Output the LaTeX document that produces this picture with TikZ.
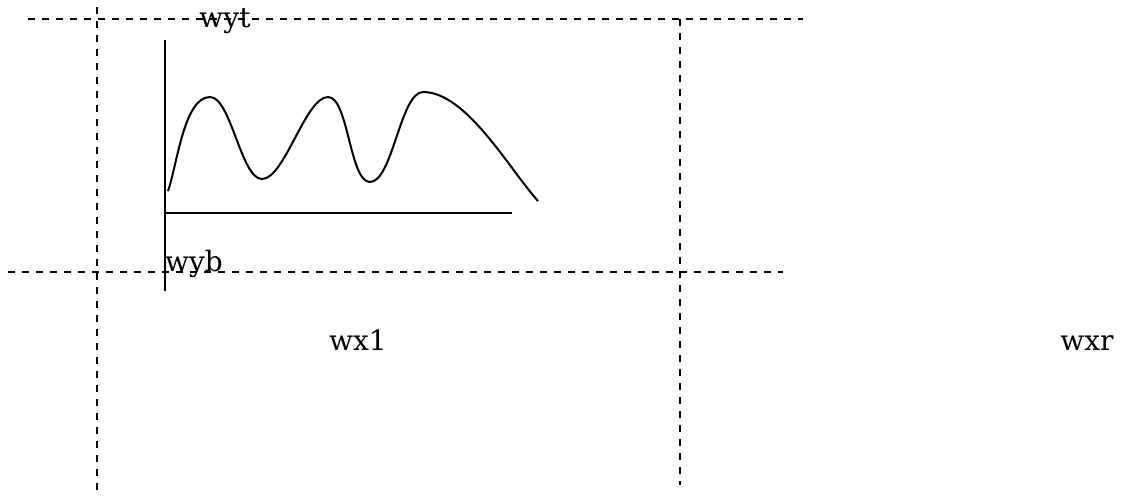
\documentclass[tikz,border=0pt]{standalone}
\usepackage{fontspec}
\setmainfont{DejaVu Serif}
\usepackage{tikz}
\usetikzlibrary{positioning}
\tikzset{
  guide/.style={dash pattern=on 7pt off 7pt, line width=1.8pt, black},
  axisline/.style={line width=2pt, black},
  wave/.style={line width=2pt, black},
  wlabel/.style={inner sep=0pt, font=\fontsize{28}{34}\selectfont},
}

\begin{document}
\begin{tikzpicture}[x=1pt,y=1pt]
  \useasboundingbox (0,0) rectangle (1134,496);
  % window guides
  \coordinate (topL) at (28,477);   \coordinate (topR) at (803,477);
  \coordinate (botL) at (8,224);    \coordinate (botR) at (783,224);
  \coordinate (lftT) at (97,489);   \coordinate (lftB) at (97,6);
  \coordinate (rgtT) at (680,477);  \coordinate (rgtB) at (680,11);
  \draw[guide] (topL) -- (topR);
  \draw[guide] (botL) -- (botR);
  \draw[guide] (lftT) -- (lftB);
  \draw[guide] (rgtT) -- (rgtB);
  % axes
  \coordinate (yTop) at (165,456);
  \coordinate (yBot) at (165,205);
  \coordinate (xEnd) at (512,283);
  \draw[axisline] (yTop) -- (yBot);
  \draw[axisline] (yTop |- xEnd) -- (xEnd);
  % signal
  \draw[wave] (168,305) to[out=70,in=180,looseness=0.65] (210,399)
    to[out=0,in=180,looseness=0.55] (262,317)
    to[out=0,in=180,looseness=0.55] (328,399)
    to[out=0,in=180,looseness=0.55] (370,314)
    to[out=0,in=180,looseness=0.55] (423,404)
    to[out=0,in=132,looseness=0.7] (538,295);
  % labels
  \node[wlabel, anchor=base] (wyt) at (225,468) {wyt};
  \node[wlabel, anchor=base west] (wyb) at (165,225) {wyb};
  \node[wlabel, anchor=base] (wx1) at (358,146) {wx1};
  \node[wlabel, anchor=base] (wxr) at (1087,146) {wxr};
\end{tikzpicture}
\end{document}
